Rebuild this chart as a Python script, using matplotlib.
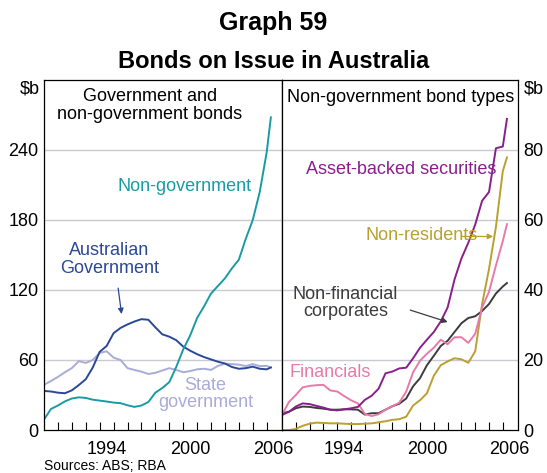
import numpy as np
import matplotlib
matplotlib.use("Agg")
import matplotlib.pyplot as plt

plt.rcParams['font.family'] = ['Liberation Sans', 'DejaVu Sans']

# half-yearly readings, $b
years = [1990.0, 1990.5, 1991.0, 1991.5, 1992.0, 1992.5, 1993.0, 1993.5,
         1994.0, 1994.5, 1995.0, 1995.5, 1996.0, 1996.5, 1997.0, 1997.5,
         1998.0, 1998.5, 1999.0, 1999.5, 2000.0, 2000.5, 2001.0, 2001.5,
         2002.0, 2002.5, 2003.0, 2003.5, 2004.0, 2004.5, 2005.0, 2005.5,
         2006.0, 2006.3]

aus_gov = [33.5, 33, 32, 31.5, 34, 38.5, 43.5, 53.5, 67, 72, 83, 87.5, 90.5,
           93, 95, 94.5, 88, 82, 80, 77, 71.5, 68, 65, 62.5, 60.5, 58.5, 57,
           54, 52.5, 53, 54.3, 52.5, 52, 53.6]
state_gov = [38.7, 42, 45.5, 49.5, 53, 59, 57.5, 60, 66, 67.5, 62, 60, 53,
             51.5, 50, 48, 49, 51, 53, 51.5, 49.5, 50.5, 52, 52.5, 51.5, 55,
             56.8, 56.5, 56, 54.8, 56.5, 54.7, 55, 53.6]
non_gov = [9, 18, 21, 24.5, 27, 28, 27.5, 26, 25.2, 24.4, 23.5, 23, 21.2,
           19.8, 21, 24, 32, 36, 41, 54, 69, 81, 96, 106, 117, 123.5, 130,
           138.5, 146, 164, 180, 204, 238, 268]

abs_sec = [4.3, 5.2, 6.7, 7.6, 7.4, 6.9, 6.4, 5.8, 5.6, 5.9, 6.2, 6.6, 8.6,
           9.8, 11.8, 16.2, 16.7, 17.6, 17.8, 20.5, 23.5, 25.8, 28, 31, 35,
           43, 49, 53.5, 58.7, 65.5, 68, 80.5, 81, 88.9]
financials = [4.3, 8, 10, 12.2, 12.6, 12.8, 12.9, 11.3, 11, 9.7, 8.5, 7.6,
              4.6, 4.0, 4.5, 5.8, 6.8, 7.8, 11, 16.5, 19.8, 21.8, 23.5, 25.8,
              24.5, 26.5, 26.5, 24.9, 27.5, 35, 39.5, 47, 54, 58.8]
non_fin = [4.8, 5.2, 6.2, 6.7, 6.6, 6.3, 6.1, 5.8, 5.8, 5.9, 5.9, 5.8, 4.4,
           4.8, 4.8, 5.8, 6.8, 7.5, 9, 12.5, 14.8, 18.5, 21.2, 24, 25.5, 28,
           30.5, 32, 32.5, 34, 36, 39, 41, 42]
non_res = [0, 0, 0.3, 1.2, 1.8, 2.1, 2.0, 1.9, 1.9, 1.8, 1.7, 1.7, 1.8, 1.9,
           2.2, 2.5, 2.9, 3.1, 3.8, 7, 8.5, 10.5, 15.5, 18.5, 19.6, 20.5,
           20.2, 19.2, 22.5, 36, 46, 58, 74, 77.9]

year_labels = [1994, 2000, 2006]

c_teal = '#1a9ba3'
c_blue = '#2b4897'
c_lav = '#a9abd8'
c_purple = '#8a1f8c'
c_gold = '#b9a031'
c_pink = '#e77aa9'
c_grey = '#3c3c3c'
grid_c = '#c8cbd2'

fig = plt.figure(figsize=(5.47, 4.73), dpi=100)
W, H = 547, 473
x0, x1, xm = 44, 518, 282
ytop, ybot = 80, 430
ax1 = fig.add_axes([x0 / W, 1 - ybot / H, (xm - x0) / W, (ybot - ytop) / H])
ax2 = fig.add_axes([xm / W, 1 - ybot / H, (x1 - xm) / W, (ybot - ytop) / H])

for ax, ymax, step in [(ax1, 300, 60), (ax2, 100, 20)]:
    ax.set_xlim(1990, 2007.1)
    ax.set_ylim(0, ymax)
    for g in range(step, ymax, step):
        ax.axhline(g, color=grid_c, lw=1.0, zorder=0)
    ax.set_yticks(range(0, ymax, step))
    ax.set_xticks(range(1991, 2007), minor=False)
    ax.tick_params(axis='x', which='major', direction='in', length=6,
                   labelbottom=False, width=0.8)
    ax.set_xticks([y + 0.5 for y in year_labels], minor=True)
    ax.set_xticklabels([str(y) for y in year_labels], minor=True)
    ax.tick_params(axis='x', which='minor', length=0, labelsize=13, pad=8)
    for s in ax.spines.values():
        s.set_linewidth(0.9)

ax1.tick_params(axis='y', length=0, labelsize=13, pad=4)
ax2.tick_params(axis='y', length=0, labelsize=13, pad=4, left=False,
                labelleft=False, right=False, labelright=True)

ax1.plot(years, state_gov, color=c_lav, lw=1.4)
ax1.plot(years, aus_gov, color=c_blue, lw=1.4)
ax1.plot(years, non_gov, color=c_teal, lw=1.4)

ax2.plot(years, non_res, color=c_gold, lw=1.4)
ax2.plot(years, non_fin, color=c_grey, lw=1.4)
ax2.plot(years, financials, color=c_pink, lw=1.4)
ax2.plot(years, abs_sec, color=c_purple, lw=1.4)

fs = 13
ax1.text(1997.6, 293, 'Government and\nnon-government bonds', ha='center',
         va='top', fontsize=fs, linespacing=1.1)
ax1.text(2000.1, 209, 'Non-government', color=c_teal, ha='center',
         va='center', fontsize=fs)
ax1.text(1994.7, 146, 'Australian\nGovernment', color=c_blue, ha='center',
         va='center', fontsize=fs, linespacing=1.05)
ax1.annotate('', xy=(1995.6, 97), xytext=(1995.3, 124),
             arrowprops=dict(arrowstyle='-|>', color=c_blue, lw=0.9,
                             mutation_scale=8))
ax1.text(2001.6, 31, 'State\ngovernment', color=c_lav, ha='center',
         va='center', fontsize=fs, linespacing=1.05)

ax2.text(1998.6, 97.5, 'Non-government bond types', ha='center', va='top',
         fontsize=fs)
ax2.text(1998.6, 74.5, 'Asset-backed securities', color=c_purple,
         ha='center', va='center', fontsize=fs)
ax2.text(2000.1, 55.5, 'Non-residents', color=c_gold, ha='center',
         va='center', fontsize=fs)
ax2.annotate('', xy=(2005.5, 55.3), xytext=(2002.8, 55.3),
             arrowprops=dict(arrowstyle='-|>', color=c_gold, lw=0.9,
                             mutation_scale=8))
ax2.text(1994.6, 36.3, 'Non-financial\ncorporates', color=c_grey,
         ha='center', va='center', fontsize=fs, linespacing=1.05)
ax2.annotate('', xy=(2002.2, 30.6), xytext=(1999.1, 34.5),
             arrowprops=dict(arrowstyle='-|>', color=c_grey, lw=0.9,
                             mutation_scale=8))
ax2.text(1993.5, 16.5, 'Financials', color=c_pink, ha='center',
         va='center', fontsize=fs)

fig.text(0.5, 1 - 23 / H, 'Graph 59', ha='center', va='center',
         fontsize=18, fontweight='bold')
fig.text(0.5, 1 - 62 / H, 'Bonds on Issue in Australia', ha='center',
         va='center', fontsize=17, fontweight='bold')
fig.text(30 / W, 1 - 89 / H, '$b', ha='center', va='center', fontsize=13)
fig.text(534 / W, 1 - 89 / H, '$b', ha='center', va='center', fontsize=13)
fig.text(44 / W, 1 - 466 / H, 'Sources: ABS; RBA', ha='left', va='center',
         fontsize=10)

fig.savefig('out.png', dpi=100)
